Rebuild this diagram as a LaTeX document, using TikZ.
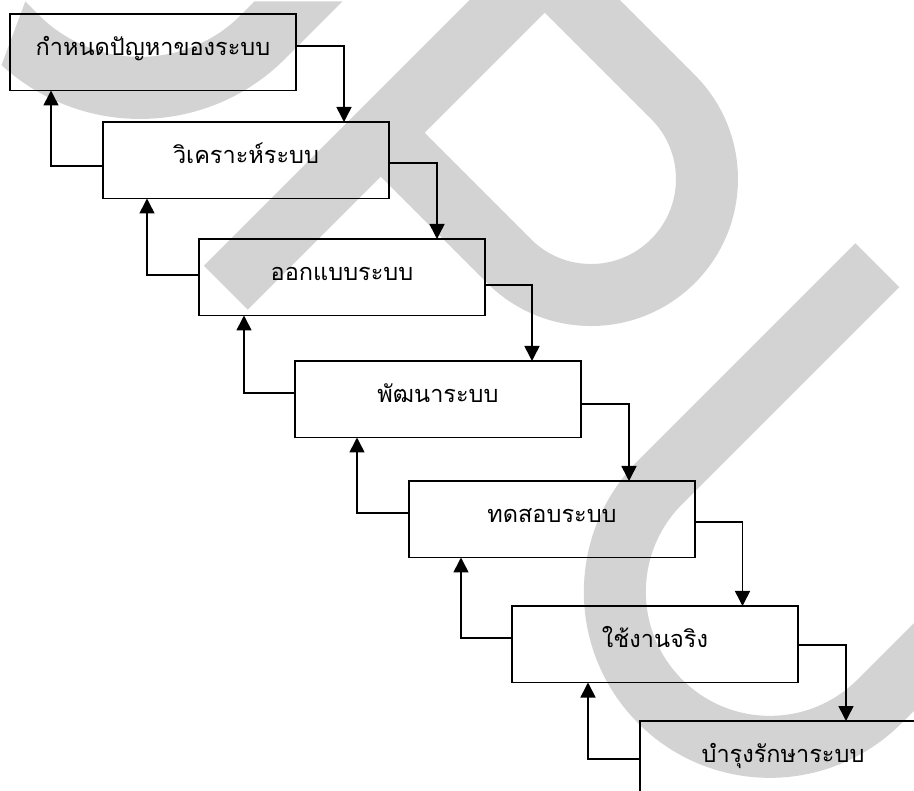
\documentclass[tikz,border=0pt]{standalone}
\usepackage{fontspec}
\newfontfamily\thaifont[Script=Thai]{Loma}
\usetikzlibrary{arrows.meta}
\definecolor{wm}{RGB}{211,211,211}
\begin{document}
\begin{tikzpicture}[x=1pt,y=-1pt,
  stagebox/.style={draw=none, fill=none, rectangle, minimum width=286pt, minimum height=76.5pt,
    inner sep=0pt, outer sep=0pt, anchor=north west,
    font=\thaifont\fontsize{23.5pt}{27pt}\selectfont, text height=0.7em, text depth=0.1em},
  boxline/.style={draw=black, line width=1.6pt, line cap=rect},
  flow/.style={line width=1.6pt, -{Triangle[width=15pt,length=15pt]}},
  wmstroke/.style={draw=wm, line width=62pt, line cap=butt, line join=miter}
]
\useasboundingbox (0,0) rectangle (914,791);
\clip (0,0) rectangle (914,791);
% watermark letters D P U
\fill[wm] (1.5,65.1) arc[start angle=132.5, end angle=45, radius=205] -- (342.5,1.5) -- (254.5,1.5) -- (241,15)
   arc[start angle=45, end angle=135, radius=143] -- (25.3,1.5) -- cycle;
\draw[wmstroke] (225.75,287.75) -- (544.75,-31.25) -- (673,97) arc[start angle=-45, end angle=135, radius=116] -- (380.75,132.75);
\draw[wmstroke] (877.25,265.25) -- (660.25,482.25) arc[start angle=225, end angle=45, radius=155] -- (1096.75,484.75);
% stages
\node[stagebox] (b1) at (10,14) {กำหนดปัญหาของระบบ};
\node[stagebox] (b2) at (103,122) {วิเคราะห์ระบบ};
\node[stagebox] (b3) at (199,239) {ออกแบบระบบ};
\node[stagebox] (b4) at (295,361) {พัฒนาระบบ};
\node[stagebox] (b5) at (409,481) {ทดสอบระบบ};
\node[stagebox] (b6) at (512,606) {ใช้งานจริง};
\node[stagebox] (b7) at (640,721) {บำรุงรักษาระบบ};
% box outlines as open segments
\foreach \n in {b1,b2,b3,b4,b5,b6,b7} {
  \draw[boxline] (\n.north west) -- (\n.north east) (\n.north east) -- (\n.south east)
     (\n.south east) -- (\n.south west) (\n.south west) -- (\n.north west);
}
% forward connectors
\coordinate (r1) at (344,46);
\coordinate (r2) at (437,163);
\coordinate (r3) at (532,285);
\coordinate (r4) at (629,404);
\coordinate (r5) at (742.5,522);
\coordinate (r6) at (846,645);
\draw[flow] (b1.east |- r1) -| (b2.north -| r1);
\draw[flow] (b2.east |- r2) -| (b3.north -| r2);
\draw[flow] (b3.east |- r3) -| (b4.north -| r3);
\draw[flow] (b4.east |- r4) -| (b5.north -| r4);
\draw[flow] (b5.east |- r5) -| (b6.north -| r5);
\draw[flow] (b6.east |- r6) -| (b7.north -| r6);
% feedback connectors
\coordinate (l2) at (51,166);
\coordinate (l3) at (147,275);
\coordinate (l4) at (244,393);
\coordinate (l5) at (357,513);
\coordinate (l6) at (461,638);
\coordinate (l7) at (588,759);
\draw[flow] (b2.west |- l2) -| (b1.south -| l2);
\draw[flow] (b3.west |- l3) -| (b2.south -| l3);
\draw[flow] (b4.west |- l4) -| (b3.south -| l4);
\draw[flow] (b5.west |- l5) -| (b4.south -| l5);
\draw[flow] (b6.west |- l6) -| (b5.south -| l6);
\draw[flow] (b7.west |- l7) -| (b6.south -| l7);
\end{tikzpicture}
\end{document}
